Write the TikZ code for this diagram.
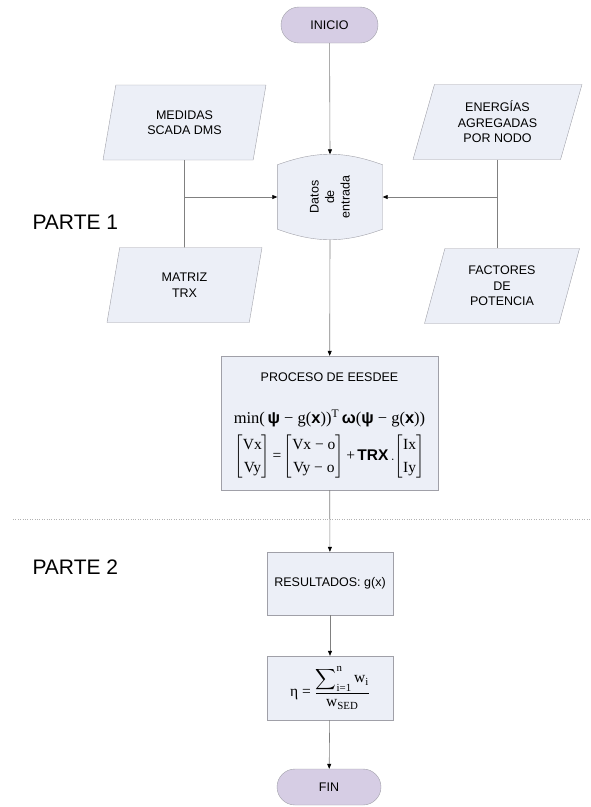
\documentclass[tikz,border=0pt]{standalone}
\usepackage{amsmath}
\usepackage{fontspec}
\setmainfont{Liberation Sans}
\newfontfamily\tms{Liberation Serif}
\usetikzlibrary{shapes.geometric, arrows.meta}
\definecolor{boxfill}{RGB}{236,239,247}
\definecolor{termfill}{RGB}{214,205,228}
\definecolor{edge}{RGB}{160,160,168}
\definecolor{wire}{RGB}{128,128,128}
\newcommand{\tx}[1]{\text{\tms #1}}
\newcommand{\bv}[1]{\text{\bfseries #1}}
\newcommand{\bigf}{\fontsize{15.5}{18}\selectfont}

\begin{document}
\begin{tikzpicture}[x=1pt, y=-1pt,
    font=\fontsize{12.5}{15.5}\selectfont,
    wireline/.style={draw=wire, line width=0.6pt},
    flow/.style={wireline, -{Triangle[length=5pt, width=4pt, color=black]}},
    term/.style={draw=edge, fill=termfill, rounded corners=18pt, minimum height=36pt},
    indata/.style={trapezium, trapezium left angle=64, trapezium right angle=116,
        trapezium stretches body=true, draw=edge, fill=boxfill, minimum height=75pt,
        inner sep=1pt, align=center},
    procbox/.style={draw=edge, fill=boxfill, align=center},
    part/.style={anchor=west, font=\fontsize{21}{25}\selectfont}]
  \useasboundingbox (0,0) rectangle (590,807);
  \node[term, minimum width=97pt] (start) at (329.5,25) {INICIO};
  \node[indata, minimum width=163pt] (med) at (184.5,122.5) {MEDIDAS\\SCADA DMS};
  \node[indata, minimum width=155pt] (trx) at (184.5,285) {MATRIZ\\TRX};
  \node[indata, minimum width=169pt] (ener) at (497.5,122) {ENERGÍAS\\AGREGADAS\\POR NODO};
  \node[indata, minimum width=155pt] (fp) at (502,286) {FACTORES\\DE\\POTENCIA};
  \node[minimum width=105pt, minimum height=64pt] (datos) at (330,197) {};
  \draw[draw=edge, fill=boxfill] (datos.north west) to[bend left=20] (datos.north east)
    -- (datos.south east) to[bend left=20] (datos.south west) -- cycle;
  \node[rotate=90, align=center] (datostxt) at (datos.center) {Datos\\de\\entrada};
  \coordinate (dtop) at ([yshift=10.5pt]datos.north);
  \coordinate (dbot) at ([yshift=-10.5pt]datos.south);
  \node[procbox, minimum width=217pt, minimum height=134pt] (proc) at (329.5,423) {};
  \node[align=center, anchor=north] (proctxt) at ([yshift=-13pt]proc.north) {PROCESO DE EESDEE\\[27pt]
    \fontsize{16.5}{18}\selectfont{\tms min(}\,{\bfseries ψ}{\tms\ − g(}{\bfseries x}{\tms ))}\textsuperscript{\tms T}\,{\bfseries ω}{\tms (}{\bfseries ψ}{\tms\ − g(}{\bfseries x}{\tms ))}\\[6pt]
    \bigf\renewcommand{\arraystretch}{1.25}%
    $\begin{bmatrix}\tx{Vx}\\\tx{Vy}\end{bmatrix}\tx{=}\begin{bmatrix}\tx{Vx − o}\\\tx{Vy − o}\end{bmatrix}\tx{+}\,\bv{TRX}\,.\!\begin{bmatrix}\tx{Ix}\\\tx{Iy}\end{bmatrix}$};
  \node[procbox, minimum width=126pt, minimum height=63pt] (res) at (330,583.5) {RESULTADOS: g(x)};
  \node[procbox, minimum width=126pt, minimum height=64pt, font=\bigf] (eta) at (330,688)
    {$\tx{η}\tx{ = }\dfrac{\displaystyle\sum\nolimits_{\tx{i=1}}^{\tx{n}}\tx{w}_{\tx{i}}}{\tx{w}_{\tx{SED}}}$};
  \node[term, minimum width=104pt] (stop) at (329,787) {FIN};
  \draw[dotted, draw=gray!60] (13,519) -- (590,519);
  \node[part] (p1) at (29,222) {PARTE 1};
  \node[part] (p2) at (29,567) {PARTE 2};
  \draw[flow] (start) -- (dtop);
  \draw[wireline] (med) -- (trx);
  \draw[flow] (med.south |- datos.west) -- (datos.west);
  \draw[wireline] (ener.south) -- (ener.south |- fp.north);
  \draw[flow] (ener.south |- datos.east) -- (datos.east);
  \draw[flow] (dbot) -- (proc);
  \draw[flow] (proc) -- (res);
  \draw[flow] (res) -- (eta);
  \draw[flow] (eta) -- (stop);
\end{tikzpicture}
\end{document}
